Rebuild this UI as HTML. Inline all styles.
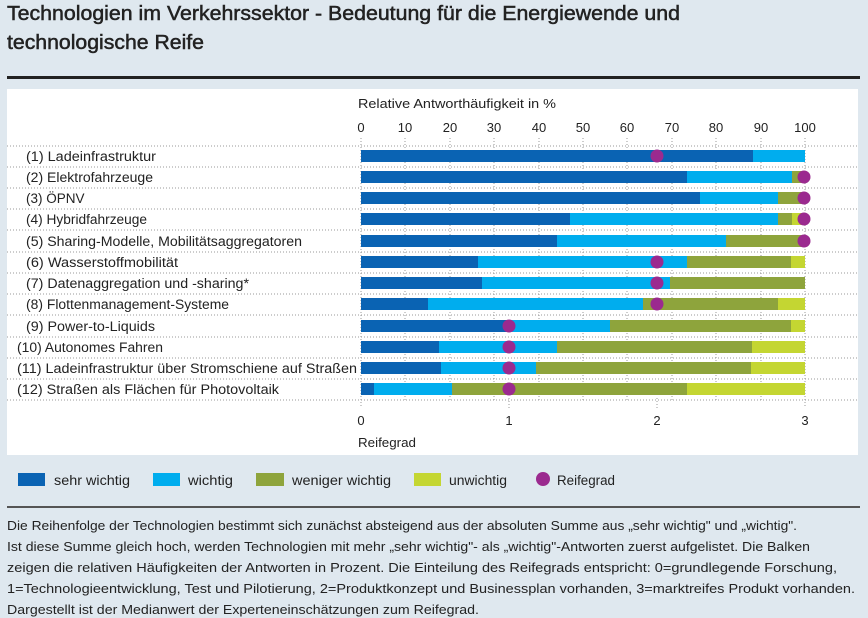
<!DOCTYPE html>
<html><head><meta charset="utf-8"><style>
body{margin:0;background:#dfe8ef;}
svg{display:block;font-family:"Liberation Sans Narrow","Liberation Sans",sans-serif;}
</style></head><body>
<svg width="868" height="618" viewBox="0 0 868 618" xmlns="http://www.w3.org/2000/svg">
<rect width="868" height="618" fill="#dfe8ef"/>
<g font-size="20" fill="#222" stroke="#222" stroke-width="0.5">
<text x="7" y="20" textLength="673" lengthAdjust="spacingAndGlyphs">Technologien im Verkehrssektor - Bedeutung für die Energiewende und</text>
<text x="7" y="49" textLength="197" lengthAdjust="spacingAndGlyphs">technologische Reife</text>
</g>
<rect x="7" y="76" width="853" height="3" fill="#222"/>
<rect x="7" y="89" width="851" height="366" fill="#fff"/>
<g font-size="13" fill="#222">
<text x="358" y="108" textLength="198" lengthAdjust="spacingAndGlyphs">Relative Antworthäufigkeit in %</text>
<g text-anchor="middle">
<text x="361" y="132">0</text><text x="405" y="132">10</text><text x="450" y="132">20</text><text x="494" y="132">30</text><text x="539" y="132">40</text><text x="583" y="132">50</text><text x="627" y="132">60</text><text x="672" y="132">70</text><text x="716" y="132">80</text><text x="761" y="132">90</text><text x="805" y="132">100</text>
<text x="361" y="425">0</text><text x="509" y="425">1</text><text x="657" y="425">2</text><text x="805" y="425">3</text>
</g>
<text x="358" y="447" textLength="58" lengthAdjust="spacingAndGlyphs">Reifegrad</text>
</g>
<g stroke="#999" stroke-width="1" stroke-dasharray="1,2">
<line x1="361" y1="138" x2="361" y2="408"/><line x1="405" y1="138" x2="405" y2="400"/><line x1="450" y1="138" x2="450" y2="400"/><line x1="494" y1="138" x2="494" y2="400"/><line x1="539" y1="138" x2="539" y2="400"/><line x1="583" y1="138" x2="583" y2="400"/><line x1="627" y1="138" x2="627" y2="400"/><line x1="672" y1="138" x2="672" y2="400"/><line x1="716" y1="138" x2="716" y2="400"/><line x1="761" y1="138" x2="761" y2="400"/><line x1="805" y1="138" x2="805" y2="408"/>
<line x1="509" y1="398" x2="509" y2="408"/><line x1="657" y1="398" x2="657" y2="408"/>
<line x1="7" y1="146" x2="858" y2="146"/><line x1="7" y1="167" x2="858" y2="167"/><line x1="7" y1="188" x2="858" y2="188"/><line x1="7" y1="209" x2="858" y2="209"/><line x1="7" y1="230" x2="858" y2="230"/><line x1="7" y1="252" x2="858" y2="252"/><line x1="7" y1="273" x2="858" y2="273"/><line x1="7" y1="294" x2="858" y2="294"/><line x1="7" y1="315" x2="858" y2="315"/><line x1="7" y1="337" x2="858" y2="337"/><line x1="7" y1="358" x2="858" y2="358"/><line x1="7" y1="379" x2="858" y2="379"/><line x1="7" y1="400" x2="858" y2="400"/>
</g>
<g font-size="13.5" fill="#222">
<text x="26" y="161" textLength="130" lengthAdjust="spacingAndGlyphs">(1) Ladeinfrastruktur</text>
<text x="26" y="182" textLength="127" lengthAdjust="spacingAndGlyphs">(2) Elektrofahrzeuge</text>
<text x="26" y="203">(3) ÖPNV</text>
<text x="26" y="224" textLength="121" lengthAdjust="spacingAndGlyphs">(4) Hybridfahrzeuge</text>
<text x="26" y="246" textLength="276" lengthAdjust="spacingAndGlyphs">(5) Sharing-Modelle, Mobilitätsaggregatoren</text>
<text x="26" y="267" textLength="152" lengthAdjust="spacingAndGlyphs">(6) Wasserstoffmobilität</text>
<text x="26" y="288" textLength="223" lengthAdjust="spacingAndGlyphs">(7) Datenaggregation und -sharing*</text>
<text x="26" y="309" textLength="203" lengthAdjust="spacingAndGlyphs">(8) Flottenmanagement-Systeme</text>
<text x="26" y="331" textLength="129" lengthAdjust="spacingAndGlyphs">(9) Power-to-Liquids</text>
<text x="17" y="352" textLength="146" lengthAdjust="spacingAndGlyphs">(10) Autonomes Fahren</text>
<text x="17" y="373" textLength="340" lengthAdjust="spacingAndGlyphs">(11) Ladeinfrastruktur über Stromschiene auf Straßen</text>
<text x="17" y="394" textLength="262" lengthAdjust="spacingAndGlyphs">(12) Straßen als Flächen für Photovoltaik</text>
</g>
<g>
<rect x="361" y="150" width="392" height="12" fill="#0a63b3"/><rect x="753" y="150" width="52" height="12" fill="#00adee"/>
<rect x="361" y="171" width="326" height="12" fill="#0a63b3"/><rect x="687" y="171" width="105" height="12" fill="#00adee"/><rect x="792" y="171" width="13" height="12" fill="#8ea43c"/>
<rect x="361" y="192" width="339" height="12" fill="#0a63b3"/><rect x="700" y="192" width="78" height="12" fill="#00adee"/><rect x="778" y="192" width="27" height="12" fill="#8ea43c"/>
<rect x="361" y="213" width="209" height="12" fill="#0a63b3"/><rect x="570" y="213" width="208" height="12" fill="#00adee"/><rect x="778" y="213" width="14" height="12" fill="#8ea43c"/><rect x="792" y="213" width="13" height="12" fill="#c4d632"/>
<rect x="361" y="235" width="196" height="12" fill="#0a63b3"/><rect x="557" y="235" width="169" height="12" fill="#00adee"/><rect x="726" y="235" width="79" height="12" fill="#8ea43c"/>
<rect x="361" y="256" width="117" height="12" fill="#0a63b3"/><rect x="478" y="256" width="209" height="12" fill="#00adee"/><rect x="687" y="256" width="104" height="12" fill="#8ea43c"/><rect x="791" y="256" width="14" height="12" fill="#c4d632"/>
<rect x="361" y="277" width="121" height="12" fill="#0a63b3"/><rect x="482" y="277" width="188" height="12" fill="#00adee"/><rect x="670" y="277" width="135" height="12" fill="#8ea43c"/>
<rect x="361" y="298" width="67" height="12" fill="#0a63b3"/><rect x="428" y="298" width="215" height="12" fill="#00adee"/><rect x="643" y="298" width="135" height="12" fill="#8ea43c"/><rect x="778" y="298" width="27" height="12" fill="#c4d632"/>
<rect x="361" y="320" width="149" height="12" fill="#0a63b3"/><rect x="510" y="320" width="100" height="12" fill="#00adee"/><rect x="610" y="320" width="181" height="12" fill="#8ea43c"/><rect x="791" y="320" width="14" height="12" fill="#c4d632"/>
<rect x="361" y="341" width="78" height="12" fill="#0a63b3"/><rect x="439" y="341" width="118" height="12" fill="#00adee"/><rect x="557" y="341" width="195" height="12" fill="#8ea43c"/><rect x="752" y="341" width="53" height="12" fill="#c4d632"/>
<rect x="361" y="362" width="80" height="12" fill="#0a63b3"/><rect x="441" y="362" width="95" height="12" fill="#00adee"/><rect x="536" y="362" width="215" height="12" fill="#8ea43c"/><rect x="751" y="362" width="54" height="12" fill="#c4d632"/>
<rect x="361" y="383" width="13" height="12" fill="#0a63b3"/><rect x="374" y="383" width="78" height="12" fill="#00adee"/><rect x="452" y="383" width="235" height="12" fill="#8ea43c"/><rect x="687" y="383" width="118" height="12" fill="#c4d632"/>
</g>
<g fill="#9b2a8f">
<circle cx="657" cy="156" r="6.5"/><circle cx="804" cy="177" r="6.5"/><circle cx="804" cy="198" r="6.5"/><circle cx="804" cy="219" r="6.5"/><circle cx="804" cy="241" r="6.5"/><circle cx="657" cy="262" r="6.5"/><circle cx="657" cy="283" r="6.5"/><circle cx="657" cy="304" r="6.5"/><circle cx="509" cy="326" r="6.5"/><circle cx="509" cy="347" r="6.5"/><circle cx="509" cy="368" r="6.5"/><circle cx="509" cy="389" r="6.5"/>
</g>
<g font-size="13.5" fill="#222">
<rect x="18" y="473" width="27" height="13" fill="#0a63b3"/><text x="54" y="485" textLength="76" lengthAdjust="spacingAndGlyphs">sehr wichtig</text>
<rect x="153" y="473" width="27" height="13" fill="#00adee"/><text x="188" y="485" textLength="45" lengthAdjust="spacingAndGlyphs">wichtig</text>
<rect x="256" y="473" width="28" height="13" fill="#8ea43c"/><text x="292" y="485" textLength="99" lengthAdjust="spacingAndGlyphs">weniger wichtig</text>
<rect x="414" y="473" width="27" height="13" fill="#c4d632"/><text x="449" y="485" textLength="58" lengthAdjust="spacingAndGlyphs">unwichtig</text>
<circle cx="543" cy="479" r="7" fill="#9b2a8f"/><text x="557" y="485" textLength="58" lengthAdjust="spacingAndGlyphs">Reifegrad</text>
</g>
<rect x="7" y="506" width="853" height="2" fill="#555"/>
<g font-size="13" fill="#222">
<text x="7" y="530" textLength="790" lengthAdjust="spacingAndGlyphs">Die Reihenfolge der Technologien bestimmt sich zunächst absteigend aus der absoluten Summe aus „sehr wichtig" und „wichtig".</text>
<text x="7" y="551" textLength="803" lengthAdjust="spacingAndGlyphs">Ist diese Summe gleich hoch, werden Technologien mit mehr „sehr wichtig"- als „wichtig"-Antworten zuerst aufgelistet. Die Balken</text>
<text x="7" y="572" textLength="830" lengthAdjust="spacingAndGlyphs">zeigen die relativen Häufigkeiten der Antworten in Prozent. Die Einteilung des Reifegrads entspricht: 0=grundlegende Forschung,</text>
<text x="7" y="593" textLength="848" lengthAdjust="spacingAndGlyphs">1=Technologieentwicklung, Test und Pilotierung, 2=Produktkonzept und Businessplan vorhanden, 3=marktreifes Produkt vorhanden.</text>
<text x="7" y="614" textLength="472" lengthAdjust="spacingAndGlyphs">Dargestellt ist der Medianwert der Experteneinschätzungen zum Reifegrad.</text>
</g>
</svg>
</body></html>
